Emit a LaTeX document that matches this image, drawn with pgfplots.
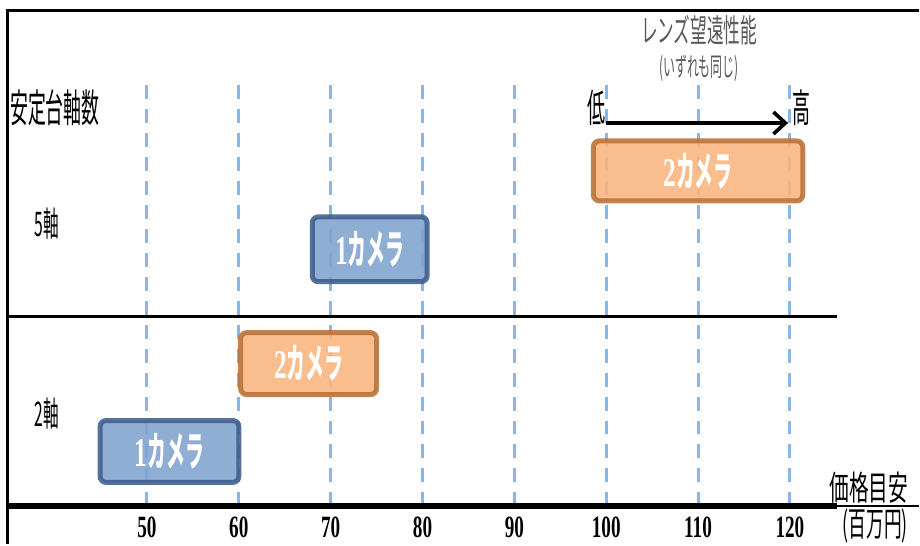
\documentclass[border=0pt]{standalone}
\usepackage{pgfplots}
\pgfplotsset{compat=1.18}
\usetikzlibrary{arrows.meta}
\usepackage{fontspec}
\setmainfont{Noto Sans CJK JP}[FakeStretch=0.46]
\newfontfamily\jpmid{Noto Sans CJK JP}[FakeStretch=0.52]
\newfontfamily\jpwide{Noto Sans CJK JP}[FakeStretch=0.58]
\newfontfamily\numfont{Liberation Serif}[FakeStretch=0.62]

\definecolor{camOneFill}{RGB}{128,163,206}
\definecolor{camOneEdge}{RGB}{60,94,140}
\definecolor{camTwoFill}{RGB}{249,181,126}
\definecolor{camTwoEdge}{RGB}{185,112,55}
\definecolor{gridBlue}{RGB}{141,180,226}
\definecolor{noteGrey}{RGB}{89,89,89}

\begin{document}
\begin{tikzpicture}
\begin{axis}[
  scale only axis,
  width=460pt, height=272.5pt,
  xmin=34, xmax=134, ymin=0, ymax=545,
  axis line style={draw=none},
  major tick length=0pt,
  ytick=\empty,
  xtick={50,60,...,120},
  xticklabel style={anchor=center, yshift=8.5pt, inner sep=0pt, font=\numfont\fontsize{15.5pt}{16pt}\selectfont\bfseries},
  /pgf/number format/assume math mode=true,
  clip=false,
]
% dashed price guides
\pgfplotsinvokeforeach{50,60,...,120}{
  \addplot[gridBlue, line width=1.5pt, dash pattern=on 7pt off 5pt, forget plot]
    coordinates {(#1,38) (#1,463)};
}

% frame and separators
\addplot[black, line width=1.5pt] coordinates {(34.87,0) (34.87,535) (134,535)};
\addplot[black, line width=1.5pt] coordinates {(34.87,228) (125.1,228)};
\addplot[black, line width=3pt] coordinates {(34.87,38) (125.1,38)};
\addplot[black, line width=1pt] coordinates {(125.1,38) (134,38)};

% price ranges: 2-axis
\addplot[draw=camOneEdge, fill=camOneFill, line width=2.5pt, rounded corners=3pt, opacity=0.88]
  coordinates {(44.9,62) (60,62) (60,124) (44.9,124)} -- cycle;
\addplot[draw=camTwoEdge, fill=camTwoFill, line width=2.5pt, rounded corners=3pt, opacity=0.88]
  coordinates {(60.2,150) (75,150) (75,212) (60.2,212)} -- cycle;
% price ranges: 5-axis
\addplot[draw=camOneEdge, fill=camOneFill, line width=2.5pt, rounded corners=3pt, opacity=0.88]
  coordinates {(68,263) (80.5,263) (80.5,328) (68,328)} -- cycle;
\addplot[draw=camTwoEdge, fill=camTwoFill, line width=2.5pt, rounded corners=3pt, opacity=0.88]
  coordinates {(98.6,344) (121.4,344) (121.4,404) (98.6,404)} -- cycle;

% telephoto arrow
\addplot[black, line width=2pt, -{Straight Barb[length=6pt,width=11pt,line width=1.8pt]}]
  coordinates {(100,422) (119.8,422)};

% box labels
\begin{scope}[every node/.style={text=white, font=\fontsize{20.5pt}{22pt}\selectfont\bfseries}]
\node at (axis cs:52.45,93) {{\numfont 1}カメラ};
\node at (axis cs:67.6,181) {{\numfont 2}カメラ};
\node at (axis cs:74.25,295.5) {{\numfont 1}カメラ};
\node at (axis cs:110,374) {{\numfont 2}カメラ};
\end{scope}

% row and header labels
\node[font=\fontsize{19.5pt}{21pt}\selectfont] at (axis cs:39.98,437) {安定台軸数};
\node[font=\fontsize{17pt}{18pt}\selectfont] at (axis cs:39.1,321) {5軸};
\node[font=\fontsize{17pt}{18pt}\selectfont] at (axis cs:39.1,131) {2軸};
\node[font=\fontsize{19.5pt}{21pt}\selectfont] at (axis cs:98.9,437) {低};
\node[font=\fontsize{19.5pt}{21pt}\selectfont] at (axis cs:121.3,437) {高};
\node[text=noteGrey, font=\jpmid\fontsize{16pt}{17pt}\selectfont] at (axis cs:110.1,515) {レンズ望遠性能};
\node[text=noteGrey, font=\fontsize{13pt}{14pt}\selectfont] at (axis cs:110.1,477) {(いずれも同じ)};
\node[inner sep=0pt, font=\jpwide\fontsize{17pt}{18pt}\selectfont] at (axis cs:128.6,57) {価格目安};
\node[inner sep=0pt, font=\jpmid\fontsize{17pt}{18pt}\selectfont] at (axis cs:129.3,18) {(百万円)};
\end{axis}
\end{tikzpicture}
\end{document}
